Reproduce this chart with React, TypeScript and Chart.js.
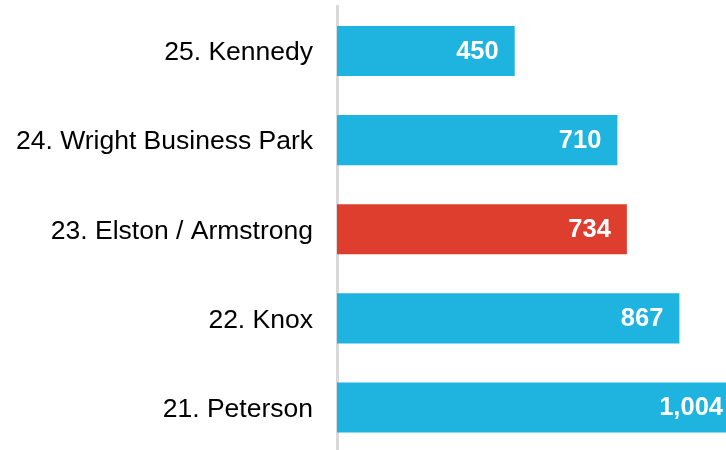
import React, { useEffect, useRef } from "react";
import { Chart, registerables } from "chart.js";

Chart.register(...registerables);

const categories = ["25. Kennedy", "24. Wright Business Park", "23. Elston / Armstrong", "22. Knox", "21. Peterson"];
const values = [450, 710, 734, 867, 1004];
const barColors = ["#1fb4e0", "#1fb4e0", "#de3e2e", "#1fb4e0", "#1fb4e0"];
const xMax = 985;

const labelPlugin = {
  id: "barLabels",
  afterDatasetsDraw(chart: any) {
    const ctx = chart.ctx;
    const meta = chart.getDatasetMeta(0);
    const right = chart.chartArea.right;
    ctx.save();
    ctx.font = "bold 25.5px 'Liberation Sans', Arial, sans-serif";
    ctx.fillStyle = "#ffffff";
    ctx.textAlign = "right";
    ctx.textBaseline = "middle";
    meta.data.forEach((bar: any, i: number) => {
      const x = bar.x > right ? right - 3 : bar.x - 16;
      ctx.fillText(values[i].toLocaleString("en-US"), x, bar.y + 1);
    });
    ctx.restore();
  },
};

export default function App() {
  const ref = useRef<HTMLCanvasElement>(null);
  useEffect(() => {
    if (!ref.current) return;
    const chart = new Chart(ref.current, {
      type: "bar",
      data: {
        labels: categories,
        datasets: [
          {
            data: values,
            backgroundColor: barColors,
            barPercentage: 0.562,
            categoryPercentage: 1,
          },
        ],
      },
      options: {
        indexAxis: "y",
        animation: false,
        responsive: false,
        maintainAspectRatio: false,
        layout: { padding: { top: 6.5, right: 0, left: 0, bottom: 0 } },
        plugins: { legend: { display: false }, tooltip: { enabled: false } },
        scales: {
          x: {
            min: 0,
            max: xMax,
            display: false,
          },
          y: {
            afterFit(scale: any) {
              scale.width = 337;
              scale.paddingTop = 0;
              scale.paddingBottom = 0;
            },
            grid: { display: false, drawTicks: false },
            border: { display: true, color: "#d9d9d9", width: 3 },
            ticks: {
              color: "#000000",
              padding: 24,
              labelOffset: 2,
              font: { family: "'Liberation Sans', Arial, sans-serif", size: 26.5 },
            },
          },
        },
      },
      plugins: [labelPlugin],
    });
    return () => chart.destroy();
  }, []);
  return (
    <div style={{ position: "fixed", left: 0, top: 0, width: 726, height: 452 }}>
      <canvas ref={ref} width={726} height={452} />
    </div>
  );
}
